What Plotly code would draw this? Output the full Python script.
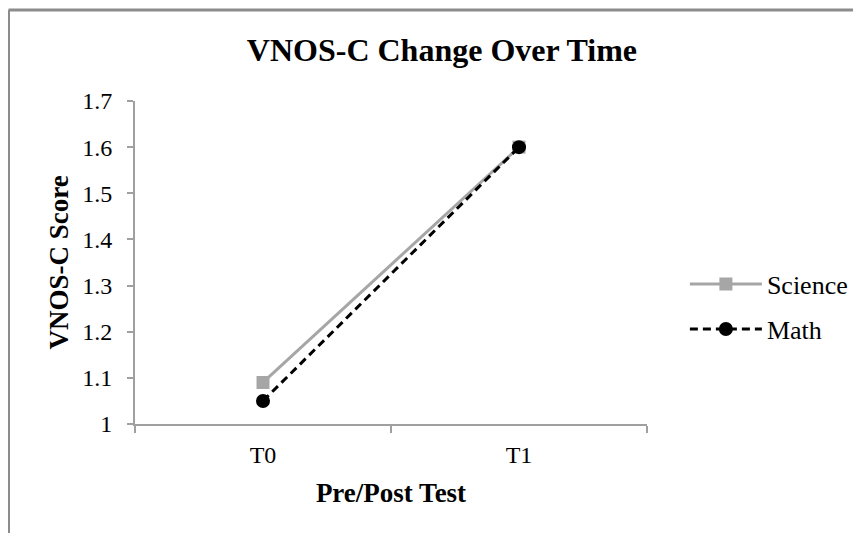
import plotly.graph_objects as go

categories = ["T0", "T1"]
science = [1.09, 1.60]
math_vals = [1.05, 1.60]
y_ticks = [1.0, 1.1, 1.2, 1.3, 1.4, 1.5, 1.6, 1.7]
y_tick_labels = ["1", "1.1", "1.2", "1.3", "1.4", "1.5", "1.6", "1.7"]

FONT = "Liberation Serif, Times New Roman, serif"

fig = go.Figure()
fig.add_trace(go.Scatter(
    x=categories, y=science, name="Science", mode="lines+markers",
    line=dict(color="#A6A6A6", width=3),
    marker=dict(symbol="square", size=13, color="#A6A6A6"),
    legend="legend",
))
fig.add_trace(go.Scatter(
    x=categories, y=math_vals, name="Math", mode="lines+markers",
    line=dict(color="#000000", width=3, dash="8px,5px"),
    marker=dict(symbol="circle", size=14, color="#000000"),
    legend="legend2",
))

L, R, T, B = 127, 222, 93, 117
fig.update_layout(
    width=861, height=533,
    margin=dict(l=L, r=R, t=T, b=B),
    paper_bgcolor="white", plot_bgcolor="white",
    font=dict(family=FONT, size=24, color="#000000"),
    title=dict(text="<b>VNOS-C Change Over Time</b>", x=0.504, xref="container",
               xanchor="center", y=0.921, yanchor="middle",
               font=dict(family=FONT, size=32, color="#000000")),
    showlegend=True,
    legend=dict(x=1.074, y=0.433, xanchor="left", yanchor="middle",
                font=dict(family=FONT, size=26), itemwidth=72,
                bgcolor="rgba(0,0,0,0)"),
    legend2=dict(x=1.074, y=0.294, xanchor="left", yanchor="middle",
                 font=dict(family=FONT, size=26), itemwidth=72,
                 bgcolor="rgba(0,0,0,0)"),
    xaxis=dict(
        type="category", range=[-0.5, 1.5], tickson="boundaries",
        showline=True, linecolor="#A0A0A0", linewidth=2,
        ticks="outside", ticklen=7, tickcolor="#A0A0A0", tickwidth=2,
        showgrid=False, zeroline=False,
        tickfont=dict(family=FONT, size=24),
        ticklabelstandoff=8,
        title=dict(text="<b>Pre/Post Test</b>", font=dict(family=FONT, size=27), standoff=16),
    ),
    yaxis=dict(
        range=[1.0, 1.7], tickvals=y_ticks, ticktext=y_tick_labels,
        showline=True, linecolor="#A0A0A0", linewidth=2,
        ticks="outside", ticklen=6, tickcolor="#A0A0A0", tickwidth=2,
        showgrid=False, zeroline=False,
        tickfont=dict(family=FONT, size=24),
        ticklabelstandoff=10,
        title=dict(text="<b>VNOS-C Score</b>", font=dict(family=FONT, size=27), standoff=6),
    ),
)

# outer chart frame (top and left edges visible)
plot_w = 861 - L - R
plot_h = 533 - T - B
fx = (0.5 - L) / plot_w
fy = (533 - B - 2) / plot_h
fig.add_shape(type="line", xref="paper", yref="paper",
              x0=fx, x1=2.0, y0=fy, y1=fy,
              line=dict(color="#8C8C8C", width=3))
fig.add_shape(type="line", xref="paper", yref="paper",
              x0=fx, x1=fx, y0=fy, y1=-0.5,
              line=dict(color="#8C8C8C", width=3))

fig.write_html("out.html")
